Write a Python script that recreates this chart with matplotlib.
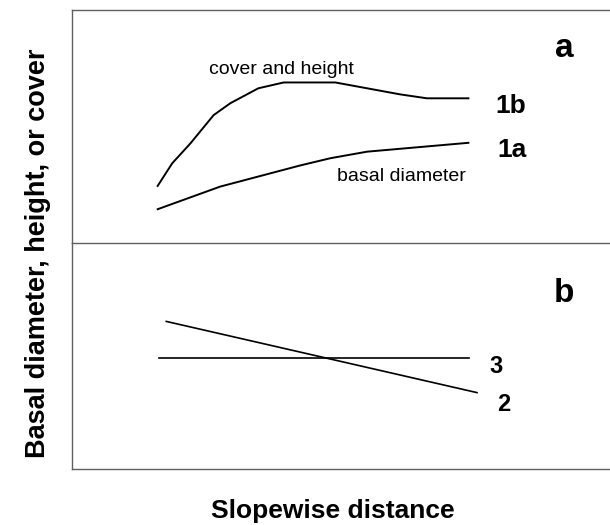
import matplotlib.pyplot as plt

plt.rcParams['font.family'] = ['Liberation Sans', 'DejaVu Sans']

# panel a: cover/height (1b) and basal diameter (1a) along the slope
dist_1b = [16.0, 18.7, 22.1, 26.4, 29.5, 34.7, 39.4, 49.0, 61.0, 66.0, 73.7]
val_1b = [24.5, 34.2, 42.8, 54.9, 60.0, 66.4, 68.9, 68.9, 63.8, 62.1, 62.1]
dist_1a = [16.0, 27.6, 42.5, 48.1, 54.9, 73.7]
val_1a = [14.5, 24.2, 33.3, 36.4, 39.2, 43.0]

# panel b: straight trends 2 and 3
dist_2 = [17.6, 75.3]
val_2 = [65.3, 33.8]
dist_3 = [16.2, 73.9]
val_3 = [49.1, 49.1]

W, H = 610, 525
fig = plt.figure(figsize=(W / 100, H / 100), dpi=100)

left = 71.5 / W
ax_a = fig.add_axes([left, 1 - 243 / H, 1 - left, (243 - 10) / H])
ax_b = fig.add_axes([left, 1 - 469 / H, 1 - left, (469 - 243) / H])

for ax in (ax_a, ax_b):
    ax.set_xlim(0, 100)
    ax.set_ylim(0, 100)
    ax.set_xticks([])
    ax.set_yticks([])
    ax.spines['right'].set_visible(False)
    for s in ('left', 'top', 'bottom'):
        ax.spines[s].set_color('#606060')
        ax.spines[s].set_linewidth(1.0)

ax_a.spines['bottom'].set_visible(False)

ax_a.plot(dist_1b, val_1b, color='black', lw=1.4)
ax_a.plot(dist_1a, val_1a, color='black', lw=1.4)
ax_a.text(38.9, 72.6, 'cover and height', fontsize=14, ha='center', va='baseline')
ax_a.text(61.3, 26.5, 'basal diameter', fontsize=14, ha='center', va='baseline')
ax_a.text(81.6, 55.6, '1b', fontsize=19, fontweight='bold', ha='center', va='baseline')
ax_a.text(81.8, 36.9, '1a', fontsize=19, fontweight='bold', ha='center', va='baseline')
ax_a.text(91.6, 80.0, 'a', fontsize=24, fontweight='bold', ha='center', va='baseline')

ax_b.plot(dist_2, val_2, color='black', lw=1.2)
ax_b.plot(dist_3, val_3, color='black', lw=1.2)
ax_b.text(78.9, 42.6, '3', fontsize=17, fontweight='bold', ha='center', va='baseline')
ax_b.text(80.2, 25.7, '2', fontsize=17, fontweight='bold', ha='center', va='baseline')
ax_b.text(91.5, 73.9, 'b', fontsize=24, fontweight='bold', ha='center', va='baseline')

fig.text(332.5 / W, 1 - 518 / H, 'Slopewise distance', fontsize=19,
         fontweight='bold', ha='center', va='baseline')
fig.text(38 / W, 1 - 253 / H, 'Basal diameter, height, or cover', fontsize=19.5,
         fontweight='bold', ha='center', va='center', rotation=90)

fig.savefig('out.png', dpi=100, facecolor='white')
